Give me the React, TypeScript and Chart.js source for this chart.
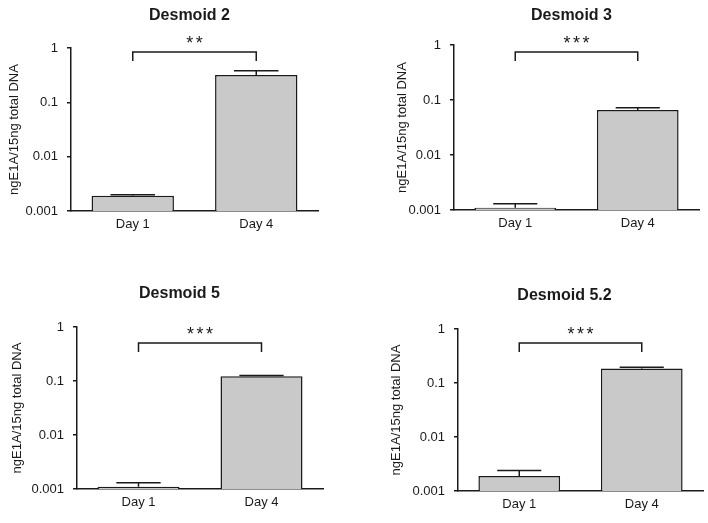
import React, { useEffect, useRef } from "react";
import { Chart, registerables } from "chart.js";

Chart.register(...registerables);

const categories = ["Day 1", "Day 4"];
const yTicks = [0.001, 0.01, 0.1, 1];

const titles = ["Desmoid 2", "Desmoid 3", "Desmoid 5", "Desmoid 5.2"];
const significance = ["**", "***", "***", "***"];

const desmoid2Means = [0.0019, 0.32];
const desmoid2Errors = [0.0001, 0.06];
const desmoid3Means = [0.0011, 0.066];
const desmoid3Errors = [0.0002, 0.006];
const desmoid5Means = [0.0011, 0.123];
const desmoid5Errors = [0.0002, 0.003];
const desmoid52Means = [0.0019, 0.186];
const desmoid52Errors = [0.0005, 0.009];

const yAxisTitle = "ngE1A/15ng total DNA";

const FONT = '"Liberation Sans", Arial, sans-serif';
const INK = "#1a1a1a";

const annotPlugin = {
  id: "annot",
  afterDatasetsDraw(chart: any, _args: any, opts: any) {
    const { ctx, chartArea } = chart;
    const xs = chart.scales.x;
    const ys = chart.scales.y;
    const meta = chart.getDatasetMeta(0);
    ctx.save();
    ctx.strokeStyle = INK;
    ctx.lineWidth = 1.5;
    // error bars (upper only)
    opts.errors.forEach((e: number, i: number) => {
      const bar = meta.data[i];
      const v = opts.values[i];
      const xc = bar.x;
      const w = bar.width;
      const y0 = ys.getPixelForValue(v);
      const y1 = ys.getPixelForValue(v + e);
      ctx.beginPath();
      ctx.moveTo(xc, y0);
      ctx.lineTo(xc, y1);
      ctx.moveTo(xc - w * 0.27, y1);
      ctx.lineTo(xc + w * 0.27, y1);
      ctx.stroke();
    });
    // significance bracket
    const xa = xs.getPixelForValue(0);
    const xb = xs.getPixelForValue(1);
    const by = chartArea.top + opts.bracketGap;
    ctx.beginPath();
    ctx.moveTo(xa, by + 9);
    ctx.lineTo(xa, by);
    ctx.lineTo(xb, by);
    ctx.lineTo(xb, by + 9);
    ctx.stroke();
    ctx.fillStyle = INK;
    ctx.textAlign = "center";
    ctx.textBaseline = "alphabetic";
    ctx.font = `18px ${FONT}`;
    (ctx as any).letterSpacing = "2.5px";
    ctx.fillText(opts.stars, (xa + xb) / 2 + 1.25, by - 3);
    (ctx as any).letterSpacing = "0px";
    // panel title
    ctx.font = `bold 16px ${FONT}`;
    ctx.fillText(
      opts.title,
      (chartArea.left + chartArea.right) / 2 + opts.titleDx,
      chartArea.top - opts.titleGap
    );
    ctx.restore();
  },
};

type PanelProps = {
  left: number;
  top: number;
  width: number;
  height: number;
  yAxisWidth: number;
  pad: { top: number; right: number; bottom: number };
  yTitlePad: number;
  title: string;
  stars: string;
  means: number[];
  errors: number[];
  titleDx: number;
  titleGap: number;
  bracketGap: number;
};

function Panel(p: PanelProps) {
  const ref = useRef<HTMLCanvasElement | null>(null);
  useEffect(() => {
    if (!ref.current) return;
    const chart = new Chart(ref.current, {
      type: "bar",
      data: {
        labels: categories,
        datasets: [
          {
            data: p.means,
            backgroundColor: "#c9c9c9",
            borderColor: INK,
            borderWidth: 1.5,
            barPercentage: 0.667,
            categoryPercentage: 1,
          },
        ],
      },
      options: {
        responsive: false,
        animation: false,
        devicePixelRatio: 1,
        layout: {
          padding: { top: p.pad.top, right: p.pad.right, bottom: p.pad.bottom, left: 0 },
        },
        plugins: {
          legend: { display: false },
          tooltip: { enabled: false },
          title: { display: false },
          annot: {
            values: p.means,
            errors: p.errors,
            stars: p.stars,
            title: p.title,
            titleDx: p.titleDx,
            titleGap: p.titleGap,
            bracketGap: p.bracketGap,
          },
        } as any,
        scales: {
          x: {
            type: "category",
            offset: true,
            grid: { display: false, drawTicks: false },
            border: { display: true, color: INK, width: 1.5 },
            ticks: {
              color: "#1a1a1a",
              font: { family: FONT, size: 13 },
              padding: 6,
              maxRotation: 0,
            },
            afterFit: (s: any) => {
              s.height = 30;
            },
          },
          y: {
            type: "logarithmic",
            min: 0.001,
            max: 1,
            grid: {
              display: true,
              drawOnChartArea: false,
              drawTicks: true,
              tickLength: 4,
              color: INK,
              lineWidth: 1.5,
            },
            border: { display: true, color: INK, width: 1.5 },
            ticks: {
              color: "#1a1a1a",
              font: { family: FONT, size: 13 },
              padding: 9,
              callback: (v: any) => String(v),
            },
            afterBuildTicks: (s: any) => {
              s.ticks = yTicks.map((v) => ({ value: v }));
            },
            title: {
              display: true,
              text: yAxisTitle,
              color: "#1a1a1a",
              font: { family: FONT, size: 13 },
              padding: { top: p.yTitlePad, bottom: 0 },
            },
            afterFit: (s: any) => {
              s.width = p.yAxisWidth;
            },
          },
        },
      } as any,
      plugins: [annotPlugin],
    });
    return () => chart.destroy();
  }, []);
  return (
    <canvas
      ref={ref}
      width={p.width}
      height={p.height}
      style={{
        position: "absolute",
        left: p.left,
        top: p.top,
        width: p.width,
        height: p.height,
        display: "block",
      }}
    />
  );
}

export default function App() {
  return (
    <div
      style={{
        position: "absolute",
        left: 0,
        top: 0,
        width: 708,
        height: 523,
        background: "#ffffff",
        overflow: "hidden",
      }}
    >
      <Panel
        left={0}
        top={0}
        width={354}
        height={255}
        yAxisWidth={71}
        pad={{ top: 48, right: 36, bottom: 14 }}
        yTitlePad={6.7}
        title={titles[0]}
        stars={significance[0]}
        means={desmoid2Means}
        errors={desmoid2Errors}
        titleDx={-5}
        titleGap={28}
        bracketGap={4}
      />
      <Panel
        left={383}
        top={0}
        width={325}
        height={255}
        yAxisWidth={71}
        pad={{ top: 45, right: 9, bottom: 15 }}
        yTitlePad={12}
        title={titles[1]}
        stars={significance[1]}
        means={desmoid3Means}
        errors={desmoid3Errors}
        titleDx={-5}
        titleGap={25}
        bracketGap={7}
      />
      <Panel
        left={6}
        top={270}
        width={348}
        height={253}
        yAxisWidth={71}
        pad={{ top: 57, right: 31, bottom: 4 }}
        yTitlePad={4}
        title={titles[2]}
        stars={significance[2]}
        means={desmoid5Means}
        errors={desmoid5Errors}
        titleDx={-20.5}
        titleGap={29}
        bracketGap={16}
      />
      <Panel
        left={387}
        top={270}
        width={321}
        height={253}
        yAxisWidth={71}
        pad={{ top: 59, right: 5, bottom: 2 }}
        yTitlePad={2}
        title={titles[3]}
        stars={significance[3]}
        means={desmoid52Means}
        errors={desmoid52Errors}
        titleDx={-16}
        titleGap={29}
        bracketGap={14}
      />
    </div>
  );
}
